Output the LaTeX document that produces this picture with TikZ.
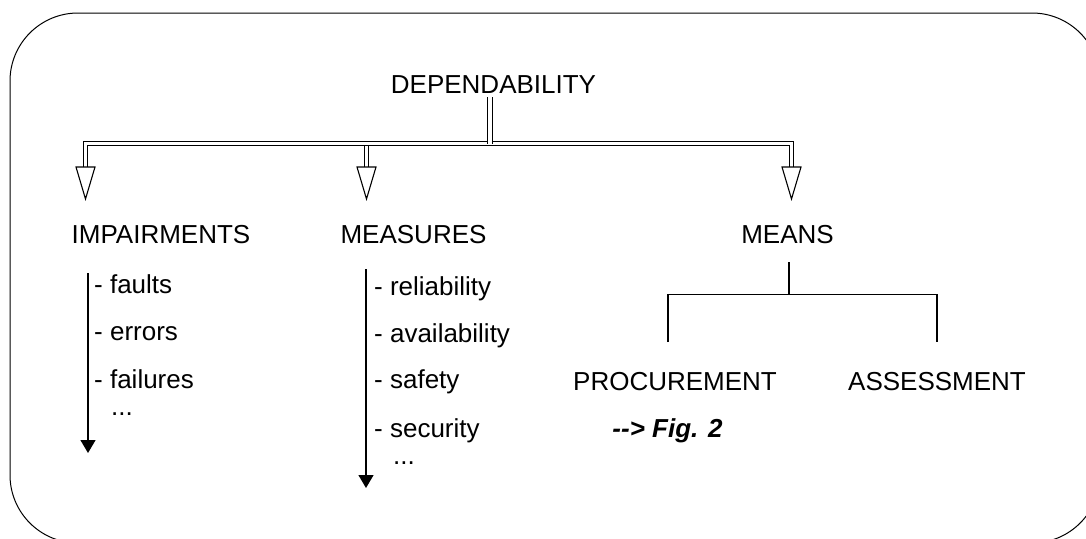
\documentclass[tikz,border=0pt]{standalone}
\usepackage{fontspec}
\setmainfont{Liberation Sans}
\usetikzlibrary{arrows.meta,calc}
\begin{document}
\begin{tikzpicture}[x=1pt,y=-1pt,
  lbl/.style={font=\fontsize{26}{30}\selectfont, inner sep=0pt},
  item/.style={lbl, anchor=base west},
  head/.style={lbl, anchor=base},
  dbl/.style={double, double distance=3.5pt, line width=1pt},
  openhead/.style={line width=1.1pt, line join=miter},
  listarrow/.style={line width=1.3pt, -{Triangle[length=13pt,width=15pt]}},
  tree/.style={line width=1.2pt}]
\useasboundingbox (0,0) rectangle (1086,538);
\begin{scope}
  \clip (0,0) rectangle (1086,538);
  \draw[line width=1pt, rounded corners=68pt] (10,13) rectangle (1100,543);
\end{scope}

% headings
\node[head] (dep) at (493.5,93) {DEPENDABILITY};
\node[head] (imp) at (161,243) {IMPAIRMENTS};
\node[head] (mea) at (413.5,243) {MEASURES};
\node[head] (mns) at (787.5,243) {MEANS};
\node[head] (proc) at (675,390) {PROCUREMENT};
\node[head] (ass) at (937,390) {ASSESSMENT};
\node[head, font=\fontsize{26}{30}\selectfont\bfseries\itshape] (fig) at (667.5,437) {{-}{-}> Fig. 2};

% double-line tree
\coordinate (stemtop) at (490,97);
\coordinate (stembot) at (490,143.5);
\coordinate (hl) at (85.5,143.5);
\coordinate (hr) at (791.5,143.5);
\coordinate (ta) at (85.5,167);
\coordinate (tb) at (366.5,167);
\coordinate (tc) at (791.5,167);
\coordinate (mb) at (366.5,146.3);
\draw[dbl] (ta) -- (hl) -- (hr) -- (tc);
\draw[dbl] (stemtop) -- (stembot);
\draw[dbl] (mb) -- (tb);
\foreach \t in {ta,tb,tc}
  \draw[openhead] ($(\t)+(-9.5,0)$) -- ($(\t)+(9.5,0)$) -- ($(\t)+(0,32)$) -- cycle;

% impairments list
\coordinate (ia) at (88,273);
\coordinate (ib) at (88,453);
\draw[listarrow] (ia) -- (ib);
\node[item] (i1) at (94,293) {- faults};
\node[item] (i2) at (94,340) {- errors};
\node[item] (i3) at (94,388) {- failures};
\node[item] (i4) at (111,415) {...};

% measures list
\coordinate (ma) at (366,269);
\coordinate (mbb) at (366,488);
\draw[listarrow] (ma) -- (mbb);
\node[item] (m1) at (374,295) {- reliability};
\node[item] (m2) at (374,342) {- availability};
\node[item] (m3) at (374,388) {- safety};
\node[item] (m4) at (374,437) {- security};
\node[item] (m5) at (393,464) {...};

% means tree
\coordinate (ms1) at (789,262);
\coordinate (ms2) at (789,294.5);
\coordinate (pl) at (668,342);
\coordinate (ar) at (937,342);
\draw[tree] (ms1) -- (ms2);
\draw[tree] (pl) |- (ms2) -| (ar);
\end{tikzpicture}
\end{document}
